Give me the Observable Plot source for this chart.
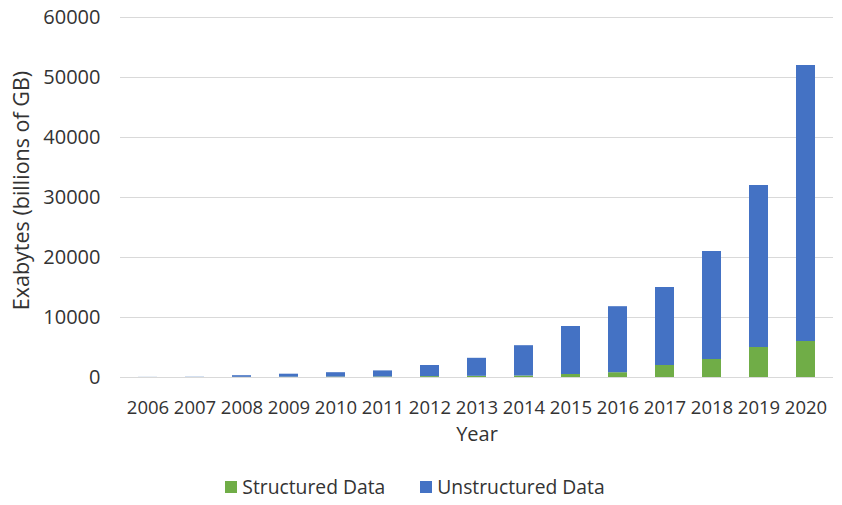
<!DOCTYPE html>
<html>
<head>
<meta charset="utf-8">
<script src="https://cdn.jsdelivr.net/npm/d3@7"></script>
<script src="https://cdn.jsdelivr.net/npm/@observablehq/plot@0.6"></script>
<style>
  body { margin: 0; background: #fff; font-family: "Open Sans", sans-serif; }
  #chart { width: 842px; }
  .legend { display: flex; justify-content: center; gap: 35px; font-size: 19.3px; color: #333; margin-top: 3px; padding-right: 12px; }
  .legend span.item { display: flex; align-items: center; gap: 5px; }
  .legend i { display: inline-block; width: 12px; height: 12px; }
</style>
</head>
<body>
<div id="chart"></div>
<script>
const years = ["2006","2007","2008","2009","2010","2011","2012","2013","2014","2015","2016","2017","2018","2019","2020"];
const structured = [2, 4, 30, 50, 70, 90, 150, 200, 250, 500, 800, 2000, 3000, 5000, 6000];
const totals = [20, 40, 300, 550, 800, 1100, 2000, 3200, 5300, 8500, 11800, 15000, 21000, 32000, 52000];
const unstructured = totals.map((t, i) => t - structured[i]);
const seriesNames = ["Structured Data", "Unstructured Data"];
const seriesColors = ["#70ad47", "#4472c4"];
const yTicks = [0, 10000, 20000, 30000, 40000, 50000, 60000];

const data = years.flatMap((yr, i) => [
  {year: yr, series: seriesNames[0], value: structured[i]},
  {year: yr, series: seriesNames[1], value: unstructured[i]}
]);

const plot = Plot.plot({
  width: 842,
  height: 470,
  marginLeft: 120,
  marginRight: 9,
  marginTop: 17,
  marginBottom: 93,
  style: {fontFamily: "Open Sans, sans-serif", fontSize: "18px", color: "#333"},
  x: {type: "band", domain: years, paddingInner: 0.6, paddingOuter: 0.3, label: null},
  y: {domain: [0, 60000], label: null},
  color: {domain: seriesNames, range: seriesColors},
  marks: [
    Plot.gridY(yTicks, {stroke: "#d9d9d9", strokeOpacity: 1, strokeWidth: 1}),
    Plot.axisY(yTicks, {tickSize: 0, tickPadding: 20, label: null, tickFormat: d => String(d), fontSize: 20}),
    Plot.axisX({tickSize: 0, tickPadding: 23, label: null, fontSize: 18.5}),
    Plot.barY(data, {x: "year", y: "value", fill: "series"}),
    Plot.text(["Year"], {frameAnchor: "bottom", dy: 63, fontSize: 20, fill: "#333"}),
    Plot.text(["Exabytes (billions of GB)"], {frameAnchor: "left", textAnchor: "middle", dx: -98, dy: -7, rotate: -90, fontSize: 21.5, fill: "#333"})
  ]
});
document.getElementById("chart").appendChild(plot);

const legend = document.createElement("div");
legend.className = "legend";
seriesNames.forEach((n, i) => {
  const s = document.createElement("span");
  s.className = "item";
  s.innerHTML = `<i style="background:${seriesColors[i]}"></i>${n}`;
  legend.appendChild(s);
});
document.getElementById("chart").appendChild(legend);
</script>
</body>
</html>
